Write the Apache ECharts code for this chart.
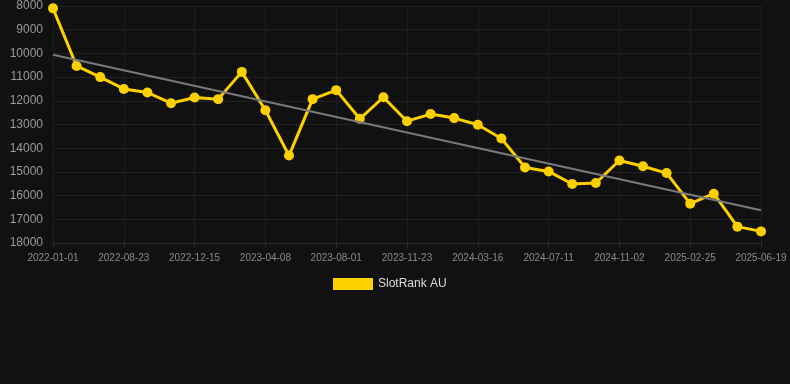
<!DOCTYPE html>
<html>
<head>
<meta charset="utf-8">
<title>SlotRank AU</title>
<script src="https://cdn.jsdelivr.net/npm/echarts@6/dist/echarts.min.js"></script>
<style>
	html, body { margin: 0; padding: 0; background: #111111; }
	#chart { width: 790px; height: 384px; }
</style>
</head>
<body>
<div id="chart"></div>
<script>
// dates (category axis), one label shown every third point
var dates = [
	'2022-01-01', '2022-06-08', '2022-07-16', '2022-08-23', '2022-09-30', '2022-11-07',
	'2022-12-15', '2023-01-22', '2023-03-01', '2023-04-08', '2023-05-16', '2023-06-23',
	'2023-08-01', '2023-09-08', '2023-10-16', '2023-11-23', '2023-12-31', '2024-02-07',
	'2024-03-16', '2024-04-24', '2024-06-02', '2024-07-11', '2024-08-18', '2024-09-25',
	'2024-11-02', '2024-12-10', '2025-01-18', '2025-02-25', '2025-04-04', '2025-05-12',
	'2025-06-19'
];
// rank values
var rankValues = [
	8100, 10530, 11000, 11500, 11650, 12100, 11860, 11930, 10780, 12400, 14310,
	11930, 11550, 12760, 11850, 12860, 12560, 12730, 13010, 13590, 14810,
	14980, 15510, 15470, 14520, 14760, 15050, 16340, 15920, 17310, 17510
];
// trend line end values (first and last date)
var trendValues = [10060, 16620];
var yTicks = [8000, 18000, 1000]; // min, max, step

var chart = echarts.init(document.getElementById('chart'));
var option = {
	backgroundColor: '#111111',
	animation: false,
	grid: {
		left: 53,
		right: 29,
		top: 6,
		bottom: 141
	},
	legend: {
		top: 273,
		left: 328,
		icon: 'rect',
		itemWidth: 40,
		itemHeight: 12,
		itemGap: 10,
		data: ['SlotRank AU'],
		textStyle: {
			color: '#dddddd',
			fontSize: 12,
			fontFamily: 'Liberation Sans, Arial, sans-serif'
		}
	},
	xAxis: {
		type: 'category',
		boundaryGap: false,
		data: dates,
		axisLine: { show: true, lineStyle: { color: '#2a2a2a' } },
		axisTick: { show: true, interval: 2, length: 5, lineStyle: { color: '#2a2a2a' } },
		axisLabel: {
			interval: 2,
			color: '#8a8a8a',
			fontSize: 10,
			margin: 10,
			fontFamily: 'Liberation Sans, Arial, sans-serif'
		},
		splitLine: { show: true, interval: 2, lineStyle: { color: '#1e1e1e' } }
	},
	yAxis: {
		type: 'value',
		inverse: true,
		min: yTicks[0],
		max: yTicks[1],
		interval: yTicks[2],
		axisLine: { show: false },
		axisTick: { show: false },
		axisLabel: {
			color: '#9a9a9a',
			fontSize: 12,
			margin: 10,
			fontFamily: 'Liberation Sans, Arial, sans-serif',
			formatter: function (v) { return String(v); }
		},
		splitLine: { show: true, lineStyle: { color: '#222222' } }
	},
	series: [
		{
			name: 'SlotRank AU',
			type: 'line',
			data: rankValues,
			symbol: 'circle',
			symbolSize: 10,
			color: '#ffd000',
			lineStyle: { width: 3, color: '#ffd000' },
			itemStyle: { color: '#ffd000' },
			z: 3,
			markLine: {
				silent: true,
				symbol: ['none', 'none'],
				label: { show: false },
				lineStyle: { color: '#7a7a7a', width: 2, type: 'solid' },
				data: [
					[
						{ coord: [dates[0], trendValues[0]] },
						{ coord: [dates[dates.length - 1], trendValues[1]] }
					]
				]
			}
		}
	]
};
chart.setOption(option);
</script>
</body>
</html>
